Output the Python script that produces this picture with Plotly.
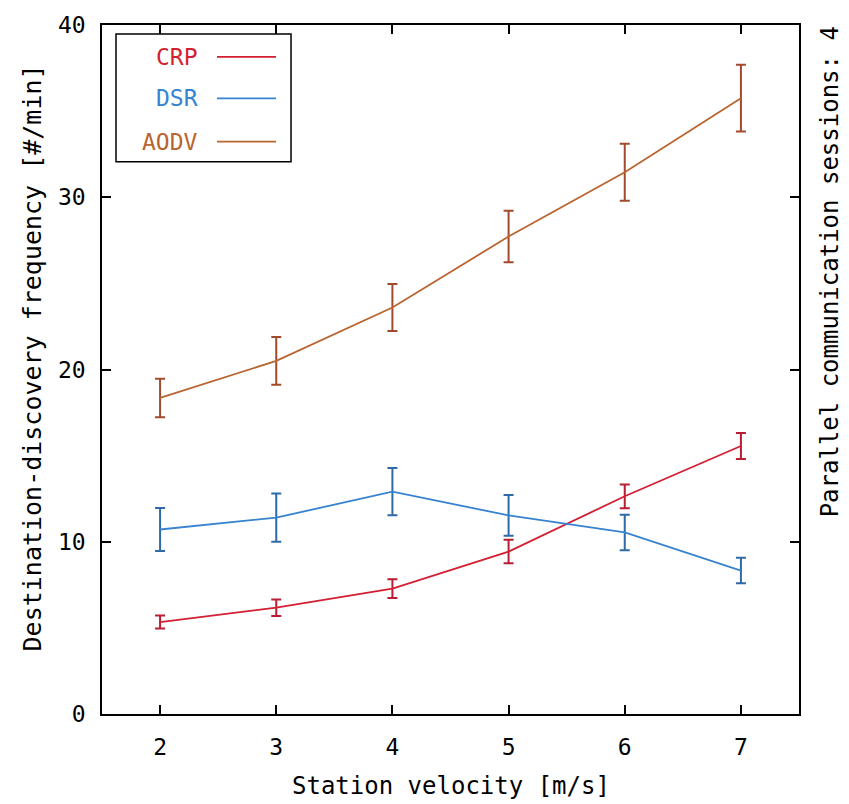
import plotly.graph_objects as go

velocity = [2, 3, 4, 5, 6, 7]
series_names = ["CRP", "DSR", "AODV"]
crp = [5.34, 6.17, 7.28, 9.43, 12.64, 15.56]
crp_err = [0.38, 0.48, 0.55, 0.68, 0.69, 0.76]
dsr = [10.71, 11.40, 12.91, 11.53, 10.54, 8.33]
dsr_err = [1.25, 1.40, 1.37, 1.18, 1.03, 0.74]
aodv = [18.35, 20.50, 23.60, 27.72, 31.45, 35.75]
aodv_err = [1.12, 1.38, 1.37, 1.50, 1.65, 1.94]
x_ticks = [2, 3, 4, 5, 6, 7]
y_ticks = [0, 10, 20, 30, 40]

line_colors = ["#d21f32", "#3783cf", "#b9652f"]
err_colors = ["#b81d33", "#2f6aa8", "#a24a2c"]
values = [crp, dsr, aodv]
errors = [crp_err, dsr_err, aodv_err]

FONT = "DejaVu Sans Mono"
FS_TICK = 23
FS_TITLE = 24
FS_YTITLE = 25
FS_LEG = 23

fig = go.Figure()
for name, ys, es, lc, ec in zip(series_names, values, errors, line_colors, err_colors):
    fig.add_trace(go.Scatter(
        x=velocity, y=ys, mode="lines", name=name,
        line=dict(color=lc, width=1.8),
        error_y=dict(type="data", array=es, visible=True, color=ec,
                     thickness=2, width=5),
        showlegend=False,
    ))

# custom legend box (text left of line sample, as in the original)
fig.add_shape(type="rect", xref="paper", yref="paper",
              x0=0.0201, x1=0.2712, y0=0.8014, y1=0.987,
              line=dict(color="black", width=1.5), fillcolor="white", layer="above")
leg_y = [0.9537, 0.8935, 0.8306]
for name, lc, ly in zip(series_names, line_colors, leg_y):
    fig.add_annotation(xref="paper", yref="paper", x=0.1406, y=ly,
                       text=name, showarrow=False, xanchor="right", yanchor="middle",
                       font=dict(family=FONT, size=FS_LEG, color=lc))
    fig.add_shape(type="line", xref="paper", yref="paper",
                  x0=0.165, x1=0.2496, y0=ly, y1=ly,
                  line=dict(color=lc, width=1.8), layer="above")

fig.add_annotation(xref="paper", yref="paper", x=-0.1, y=0.5165,
                   text="Destination-discovery frequency [#/min]", textangle=-90,
                   showarrow=False, xanchor="center", yanchor="middle",
                   font=dict(family=FONT, size=FS_YTITLE, color="black"))
fig.add_annotation(xref="paper", yref="paper", x=1.0445, y=0.641,
                   text="Parallel communication sessions: 4", textangle=-90,
                   showarrow=False, xanchor="center", yanchor="middle",
                   font=dict(family=FONT, size=FS_TITLE, color="black"))
fig.add_annotation(xref="paper", yref="paper", x=0.5, y=-0.105,
                   text="Station velocity [m/s]",
                   showarrow=False, xanchor="center", yanchor="middle",
                   font=dict(family=FONT, size=FS_TITLE, color="black"))

axis_common = dict(showgrid=False, zeroline=False, showline=True, mirror="allticks",
                   linecolor="black", linewidth=1.5, ticks="inside", ticklen=9,
                   tickwidth=1.5, tickcolor="black",
                   tickfont=dict(family=FONT, size=FS_TICK, color="black"))
fig.update_xaxes(range=[1.5, 7.5], tickvals=x_ticks, ticklabelstandoff=12, **axis_common)
fig.update_yaxes(range=[0, 40], tickvals=y_ticks, ticklabelstandoff=10, **axis_common)

fig.update_layout(width=849, height=804, margin=dict(l=102, r=50, t=19, b=90),
                  paper_bgcolor="white", plot_bgcolor="white",
                  font=dict(family=FONT, size=FS_TICK, color="black"))

fig.write_html("out.html")
